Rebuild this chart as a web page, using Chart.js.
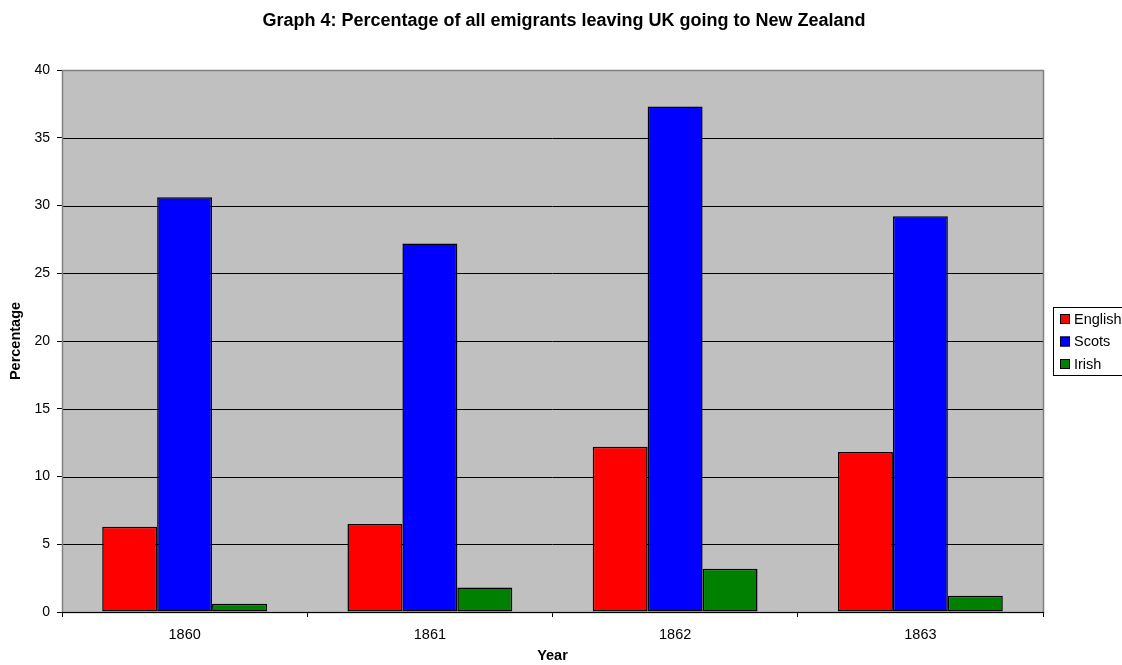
<!DOCTYPE html>
<html>
<head>
<meta charset="utf-8">
<script src="https://cdn.jsdelivr.net/npm/chart.js@4/dist/chart.umd.min.js"></script>
<style>
  html, body { margin: 0; padding: 0; background: #fff; }
  #wrap { width: 1122px; height: 665px; position: relative; overflow: hidden; }
</style>
</head>
<body>
<div id="wrap"><canvas id="c" width="1122" height="665"></canvas></div>
<script>
const years = ['1860', '1861', '1862', '1863'];
const english = [6.3, 6.5, 12.2, 11.8];
const scots = [30.6, 27.2, 37.3, 29.2];
const irish = [0.6, 1.8, 3.2, 1.2];
const yTicks = [0, 5, 10, 15, 20, 25, 30, 35, 40];
const chartTitle = 'Graph 4: Percentage of all emigrants leaving UK going to New Zealand';

const FONT = "'Liberation Sans', Arial, sans-serif";

// page title, grey plot background, frame and boxed legend at the right
const plotDecor = {
  id: 'plotDecor',
  beforeDatasetsDraw(chart) {
    const { ctx, chartArea: a } = chart;
    ctx.save();
    ctx.fillStyle = '#C0C0C0';
    ctx.fillRect(a.left, a.top, a.right - a.left, a.bottom - a.top);
    // horizontal grid lines
    const y = chart.scales.y;
    ctx.strokeStyle = '#000';
    ctx.lineWidth = 1;
    yTicks.forEach(v => {
      const py = Math.round(y.getPixelForValue(v)) + 0.5;
      ctx.beginPath();
      ctx.moveTo(a.left, py);
      ctx.lineTo(a.right, py);
      ctx.stroke();
    });
    ctx.restore();
  },
  afterDatasetsDraw(chart) {
    const { ctx, chartArea: a, width } = chart;
    ctx.save();
    ctx.strokeStyle = '#808080';
    ctx.lineWidth = 1.5;
    ctx.strokeRect(Math.round(a.left) + 0.5, Math.round(a.top) + 0.5,
      Math.round(a.right - a.left), Math.round(a.bottom - a.top));
    ctx.beginPath();
    ctx.lineWidth = 1;
    ctx.strokeStyle = '#000';
    ctx.moveTo(a.left, Math.round(a.bottom) + 0.5);
    ctx.lineTo(a.right + 1, Math.round(a.bottom) + 0.5);
    ctx.stroke();

    // title, centred on the page
    ctx.fillStyle = '#000';
    ctx.font = 'bold 18px ' + FONT;
    ctx.textAlign = 'center';
    ctx.textBaseline = 'middle';
    ctx.fillText(chartTitle, width / 2 + 3, 21);

    // legend
    const lx = 1053, ly = 307, lw = 80, lh = 68;
    ctx.textAlign = 'left';
    ctx.fillStyle = '#fff';
    ctx.fillRect(lx, ly, lw, lh);
    ctx.strokeStyle = '#000';
    ctx.strokeRect(lx + 0.5, ly + 0.5, lw, lh);
    ctx.font = '14.5px ' + FONT;
    chart.data.datasets.forEach((ds, i) => {
      const cy = ly + 11 + i * 22.5;
      ctx.fillStyle = ds.backgroundColor;
      ctx.fillRect(lx + 7, cy - 4, 10, 10);
      ctx.strokeStyle = '#000';
      ctx.strokeRect(lx + 7.5, cy - 3.5, 9, 9);
      ctx.fillStyle = '#000';
      ctx.fillText(ds.label, lx + 21, cy + 1.5);
    });
    ctx.restore();
  }
};

new Chart(document.getElementById('c'), {
  type: 'bar',
  data: {
    labels: years,
    datasets: [
      { label: 'English', data: english, backgroundColor: '#FF0000' },
      { label: 'Scots', data: scots, backgroundColor: '#0000FF' },
      { label: 'Irish', data: irish, backgroundColor: '#008000' }
    ].map(d => Object.assign(d, {
      borderColor: '#000', borderWidth: 1.5, borderSkipped: false,
      categoryPercentage: 0.672, barPercentage: 1.0
    }))
  },
  options: {
    responsive: false,
    animation: false,
    devicePixelRatio: 1,
    layout: { padding: { left: 0, right: 79, top: 70, bottom: 0 } },
    plugins: {
      legend: { display: false },
      tooltip: { enabled: false },
      title: { display: false }
    },
    scales: {
      x: {
        grid: { drawOnChartArea: false, drawTicks: true, tickLength: 5, color: '#000', offset: true },
        border: { display: false },
        ticks: { color: '#000', font: { family: FONT, size: 14.5 }, padding: 9, maxRotation: 0 },
        title: { display: true, text: 'Year', color: '#000',
          font: { family: FONT, size: 14.5, weight: 'bold' }, padding: { top: 0, bottom: 0 } },
        afterFit(s) { s.height = 53; }
      },
      y: {
        min: 0, max: 40,
        afterBuildTicks(s) { s.ticks = yTicks.map(v => ({ value: v })); },
        grid: { drawOnChartArea: false, drawTicks: true, tickLength: 5, color: '#000' },
        border: { display: true, color: '#808080' },
        ticks: { color: '#000', font: { family: FONT, size: 14 }, padding: 7 },
        title: { display: true, text: 'Percentage', color: '#000',
          font: { family: FONT, size: 14.5, weight: 'bold' }, padding: { top: 7, bottom: 0 } },
        afterFit(s) { s.width = 62; }
      }
    }
  },
  plugins: [plotDecor]
});
</script>
</body>
</html>
